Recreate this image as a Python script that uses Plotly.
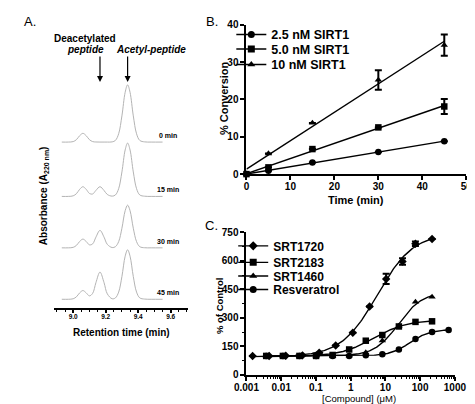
import numpy as np
import plotly.graph_objects as go

W, H = 475, 404

# ---------------- Panel A data (chromatograms, signal above baseline) -------------
A_time = [8.93, 8.97, 9.00, 9.02, 9.04, 9.06, 9.08, 9.10, 9.12, 9.14, 9.165, 9.19, 9.21,
          9.24, 9.26, 9.28, 9.30, 9.32, 9.335, 9.35, 9.37, 9.39, 9.41, 9.44, 9.48, 9.55]
A_0min = [0, 0, 0.5, 2.5, 6.6, 9, 6.6, 2.5, 0.5, 0.1, 0, 0, 0,
          0.2, 1.7, 8.6, 27, 51.3, 59, 51.3, 27, 8.6, 1.7, 0.2, 0, 0]
A_15min = [0, 0, 0.6, 2.8, 7.3, 10, 7.3, 3.1, 2.5, 6.2, 10, 6.1, 2.0,
           0.3, 1.5, 8.0, 25.2, 47.9, 55, 47.9, 25.2, 8.0, 1.5, 0.2, 0, 0]
A_30min = [0, 0, 0.5, 2.5, 6.6, 9, 6.6, 3.1, 4.1, 11, 18, 11, 3.6,
           0.3, 1.2, 6.4, 20.2, 38.3, 44, 38.3, 20.2, 6.4, 1.2, 0.1, 0, 0]
A_45min = [0, 0, 0.5, 2.5, 6.6, 9, 6.6, 3.5, 6.1, 17.1, 28, 17.1, 5.6,
           0.5, 1.4, 7.4, 23.4, 44.4, 51, 44.4, 23.4, 7.4, 1.4, 0.2, 0, 0]
A_traces = [A_0min, A_15min, A_30min, A_45min]
A_offsets = [171, 115, 62, 9]
A_labels = ["0 min", "15 min", "30 min", "45 min"]
A_ticks = [9.0, 9.2, 9.4, 9.6]
A_peaks = [9.165, 9.335]

# ---------------- Panel B data -------------
B_time = [0, 5, 15, 30, 45]
B_names = ["2.5 nM SIRT1", "5.0 nM SIRT1", "10 nM SIRT1"]
B_25 = [0, 0.9, 3.1, 5.9, 8.8]
B_50 = [0, 1.8, 6.7, 12.5, 18.1]
B_100 = [0, 5.5, 13.7, 25.2, 34.5]
B_25_err = [None, None, None, None, None]
B_50_err = [None, None, None, None, 2.0]
B_100_err = [None, None, None, 2.6, 2.85]
B_ticks_x = [0, 10, 20, 30, 40, 50]
B_ticks_y = [0, 10, 20, 30, 40]

# ---------------- Panel C data -------------
C_names = ["SRT1720", "SRT2183", "SRT1460", "Resveratrol"]
SRT1720_conc = [0.0015, 0.0045, 0.0135, 0.041, 0.124, 0.37, 1.15, 3.5, 10.5, 31, 73, 220]
SRT1720_val = [100, 100, 101, 103, 117, 155, 222, 360, 505, 597, 690, 715]
SRT1720_err = [None, None, None, None, None, None, None, None, 27, 17, 12, None]
SRT2183_conc = [0.0037, 0.0112, 0.0335, 0.101, 0.302, 0.905, 2.72, 8.15, 24.4, 73.3, 220]
SRT2183_val = [100, 100, 100, 100, 105, 134, 180, 210, 255, 279, 282]
SRT1460_conc = [0.0037, 0.0112, 0.0335, 0.101, 0.302, 0.905, 2.72, 8.15, 24.4, 73.3, 220]
SRT1460_val = [100, 100, 100, 100, 100, 102, 118, 180, 257, 384, 410]
RESV_conc = [0.0037, 0.0112, 0.0335, 0.101, 0.302, 0.905, 2.72, 8.15, 24.4, 73.3, 220, 660]
RESV_val = [100, 100, 100, 100, 100, 100, 104, 109, 134, 189, 226, 236]
C_tickvals = [0.001, 0.01, 0.1, 1, 10, 100, 1000]
C_ticktext = ["0.001", "0.01", "0.1", "1", "10", "100", "1000"]
C_ticks_y = [0, 150, 300, 450, 600, 750]

FONT = "Liberation Sans, Arial, sans-serif"


def px(x):
    return x / W


def py(y):
    return 1 - y / H


def fit4pl(xc, yv):
    """Least-squares 4-parameter logistic fit (Levenberg-Marquardt)."""
    lx = np.log10(np.asarray(xc, float))
    y = np.asarray(yv, float)

    def f(p, l):
        return p[0] + (p[1] - p[0]) / (1 + 10 ** ((p[2] - l) * p[3]))

    mid = (y.min() + y.max()) / 2
    p = np.array([y.min(), y.max(), lx[np.argmin(np.abs(y - mid))], 1.0])
    lam = 1e-2
    sse = np.sum((y - f(p, lx)) ** 2)
    for _ in range(800):
        r = y - f(p, lx)
        J = np.empty((len(lx), 4))
        for k in range(4):
            dp = np.zeros(4)
            dp[k] = 1e-6 * max(1.0, abs(p[k]))
            J[:, k] = (f(p + dp, lx) - f(p - dp, lx)) / (2 * dp[k])
        A = J.T @ J
        g = J.T @ r
        try:
            step = np.linalg.solve(A + lam * np.diag(np.diag(A) + 1e-9), g)
        except np.linalg.LinAlgError:
            break
        pn = p + step
        sn = np.sum((y - f(pn, lx)) ** 2)
        if np.isfinite(sn) and sn < sse:
            p, sse = pn, sn
            lam *= 0.3
        else:
            lam *= 10
        if lam > 1e12:
            break
    return lambda xs: f(p, np.log10(xs))


fig = go.Figure()

# ---- Panel A
for vals, off in zip(A_traces, A_offsets):
    fig.add_trace(go.Scatter(
        x=A_time, y=[v + off for v in vals], mode="lines",
        line=dict(color="#b4b4b4", width=1, shape="spline", smoothing=1),
        xaxis="x", yaxis="y", showlegend=False, hoverinfo="skip"))

# ---- Panel B
B_series = [(B_25, B_25_err, "circle"), (B_50, B_50_err, "square"), (B_100, B_100_err, "triangle-up")]
B_legends = ["legend", "legend2", "legend3"]
for (vals, err, sym), name, lg in zip(B_series, B_names, B_legends):
    slope, icpt = np.polyfit(B_time, vals, 1)
    xs = [min(B_time), max(B_time)]
    fig.add_trace(go.Scatter(
        x=xs, y=[icpt + slope * x for x in xs], mode="lines",
        line=dict(color="black", width=1.4), xaxis="x2", yaxis="y2",
        showlegend=False, hoverinfo="skip"))
    fig.add_trace(go.Scatter(
        x=B_time, y=vals, mode="markers",
        marker=dict(symbol=sym, size=6.5, color="black"),
        error_y=dict(type="data", array=err, color="black", thickness=2, width=3.5),
        xaxis="x2", yaxis="y2", showlegend=False, cliponaxis=False))
    fig.add_trace(go.Scatter(
        x=[None], y=[None], mode="lines+markers", name="<b>%s</b>" % name,
        marker=dict(symbol=sym, size=7, color="black"),
        line=dict(color="black", width=1.4),
        xaxis="x2", yaxis="y2", legend=lg))

# ---- Panel C
C_series = [
    (SRT1720_conc, SRT1720_val, SRT1720_err, "diamond"),
    (SRT2183_conc, SRT2183_val, None, "square"),
    (SRT1460_conc, SRT1460_val, None, "triangle-up"),
    (RESV_conc, RESV_val, None, "circle"),
]
C_legends = ["legend4", "legend5", "legend6", "legend7"]
for (xc, yv, err, sym), name, lg in zip(C_series, C_names, C_legends):
    model = fit4pl(xc, yv)
    xs = np.logspace(np.log10(min(xc)), np.log10(max(xc)), 200)
    fig.add_trace(go.Scatter(
        x=xs, y=model(xs), mode="lines",
        line=dict(color="black", width=1.4),
        xaxis="x3", yaxis="y3", showlegend=False, hoverinfo="skip"))
    tr = dict(
        x=xc, y=yv, mode="markers",
        marker=dict(symbol=sym, size=6.5, color="black"),
        xaxis="x3", yaxis="y3", showlegend=False, cliponaxis=False)
    if err is not None:
        tr["error_y"] = dict(type="data", array=err, color="black", thickness=2, width=3.5)
    fig.add_trace(go.Scatter(**tr))
    fig.add_trace(go.Scatter(
        x=[None], y=[None], mode="lines+markers", name="<b>%s</b>" % name,
        marker=dict(symbol=sym, size=7, color="black"),
        line=dict(color="black", width=1.4),
        xaxis="x3", yaxis="y3", legend=lg))

axis_common = dict(showgrid=False, zeroline=False, showline=True, linecolor="black",
                   ticks="outside", tickcolor="black", mirror=False)

log_minor = [k * 10.0 ** e for e in range(-3, 3) for k in range(2, 10)]

legend_layout = {}
B_leg_y = [6, 21, 37]
C_leg_y = [224, 241, 255, 269]
for lg, yy in zip(B_legends, B_leg_y):
    legend_layout[lg] = dict(x=px(222), y=py(yy), xanchor="left", yanchor="top",
                             bgcolor="rgba(0,0,0,0)", itemwidth=30, tracegroupgap=0,
                             font=dict(size=12.5, family=FONT, color="black"))
for lg, yy in zip(C_legends, C_leg_y):
    legend_layout[lg] = dict(x=px(224), y=py(yy), xanchor="left", yanchor="top",
                             bgcolor="rgba(0,0,0,0)", itemwidth=30, tracegroupgap=0,
                             font=dict(size=12, family=FONT, color="black"))

fig.update_layout(
    width=W, height=H, margin=dict(l=0, r=0, t=0, b=0),
    paper_bgcolor="white", plot_bgcolor="white",
    font=dict(family=FONT, color="black"),
    xaxis=dict(axis_common, domain=[px(35), px(176)], range=[8.883, 9.705], anchor="y",
               linewidth=2, ticklen=3, tickwidth=1.5, tickvals=A_ticks,
               ticktext=["%.1f" % t for t in A_ticks], ticklabelstandoff=-2,
               tickfont=dict(size=6.5, weight="bold", family=FONT, color="black"),
               minor=dict(dtick=0.05, tick0=9.0, ticks="outside", ticklen=2, tickwidth=1.2,
                          tickcolor="black")),
    yaxis=dict(domain=[py(303), py(60)], range=[0, 243], visible=False, anchor="x"),
    xaxis2=dict(axis_common, domain=[px(238), px(470)], range=[0, 50], anchor="y2",
                linewidth=2, ticklen=4, tickwidth=2, tickvals=B_ticks_x, ticklabelstandoff=-2,
                tickfont=dict(size=10, weight="bold", family=FONT, color="black")),
    yaxis2=dict(axis_common, domain=[py(165), py(11)], range=[0, 40], anchor="x2",
                linewidth=2, ticklen=4, tickwidth=2, tickvals=B_ticks_y,
                tickfont=dict(size=10, weight="bold", family=FONT, color="black")),
    xaxis3=dict(axis_common, type="log", domain=[px(238), px(458)], range=[-3, 3], anchor="y3",
                linewidth=2, ticklen=4, tickwidth=2, tickvals=C_tickvals, ticktext=C_ticktext,
                ticklabelstandoff=-2,
                tickfont=dict(size=10, weight="bold", family=FONT, color="black"),
                minor=dict(tickvals=log_minor, ticks="outside", ticklen=2, tickwidth=1,
                           tickcolor="black")),
    yaxis3=dict(axis_common, domain=[py(372), py(225)], range=[0, 750], anchor="x3",
                linewidth=2, ticklen=4, tickwidth=2, tickvals=C_ticks_y,
                tickfont=dict(size=10, weight="bold", family=FONT, color="black"),
                minor=dict(dtick=75, ticks="outside", ticklen=2, tickwidth=1.2, tickcolor="black")),
    **legend_layout,
)

BLK = "black"


def note(text, x, y, size, angle=0, xanchor="center", xref="paper", yref="paper"):
    return dict(text=text, x=x, y=y, xref=xref, yref=yref, xanchor=xanchor, yanchor="middle",
                textangle=angle, showarrow=False, font=dict(size=size, family=FONT, color=BLK))


ann = []
# panel letters
for letter, xx, yy in [("A.", 1, 8), ("B.", 193, 8), ("C.", 192, 218)]:
    ann.append(note(letter, px(xx), py(yy), 13, xanchor="left"))
# panel A texts
for lab, off in zip(A_labels, A_offsets):
    ann.append(note("<b>%s</b>" % lab, 9.585, off + 7, 7, xref="x", yref="y"))
ann.append(note("<b>Deacetylated</b>", px(68), py(25), 10))
ann.append(note("<b><i>peptide</i></b>", px(68), py(37), 10))
ann.append(note("<b><i>Acetyl-peptide</i></b>", px(137), py(37), 10))
for pk in A_peaks:
    ann.append(dict(text="", x=pk, y=233, xref="x", yref="y", showarrow=True, ax=0, ay=-27,
                    arrowhead=2, arrowsize=1, arrowwidth=1.2, arrowcolor=BLK))
ann.append(note("<b>Absorbance (A<sub>220 nm</sub>)</b>", px(25), py(187), 10, angle=-90))
ann.append(note("<b>Retention time (min)</b>", px(106), py(328), 10))
# panel B titles
ann.append(note("<b>% Conversion</b>", px(215), py(87), 11, angle=-90))
ann.append(note("<b>Time (min)</b>", px(354), py(192), 11))
# panel C titles
ann.append(note("<b>% of Control</b>", px(209), py(301), 9.5, angle=-90))
ann.append(note("[Compound] (\u03bcM)", px(357), py(396), 9.5))
fig.update_layout(annotations=ann)

fig.write_html("out.html")
